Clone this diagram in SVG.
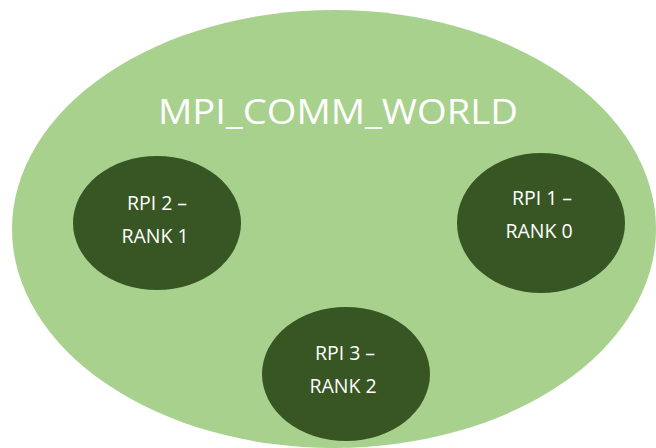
<svg xmlns="http://www.w3.org/2000/svg" width="656" height="448" viewBox="0 0 656 448">
  <style>
    .world { fill: #A9D18E; }
    .proc { fill: #375623; }
    .title { font-family: "Open Sans", "Liberation Sans", sans-serif; font-size: 34px; fill: #FFFFFF; text-anchor: middle; }
    .label { font-family: "Open Sans", "Liberation Sans", sans-serif; font-size: 19.5px; fill: #FFFFFF; text-anchor: middle; }
  </style>
  <rect width="656" height="448" fill="#FFFFFF"/>

  <!-- communicator -->
  <g id="world">
    <ellipse class="world" cx="334" cy="229" rx="322" ry="219"/>
    <text class="title" x="338" y="124" textLength="360" lengthAdjust="spacingAndGlyphs">MPI_COMM_WORLD</text>
  </g>

  <!-- processes -->
  <g id="rank1">
    <ellipse class="proc" cx="157" cy="223" rx="84" ry="67"/>
    <text class="label" x="157" y="210">RPI 2 –</text>
    <text class="label" x="155" y="243">RANK 1</text>
  </g>

  <g id="rank0">
    <ellipse class="proc" cx="541" cy="223" rx="84" ry="70"/>
    <text class="label" x="542" y="205">RPI 1 –</text>
    <text class="label" x="539" y="238">RANK 0</text>
  </g>

  <g id="rank2">
    <ellipse class="proc" cx="346" cy="374" rx="84" ry="67"/>
    <text class="label" x="345" y="360">RPI 3 –</text>
    <text class="label" x="343" y="393">RANK 2</text>
  </g>

  <g id="connectors"/>
</svg>
